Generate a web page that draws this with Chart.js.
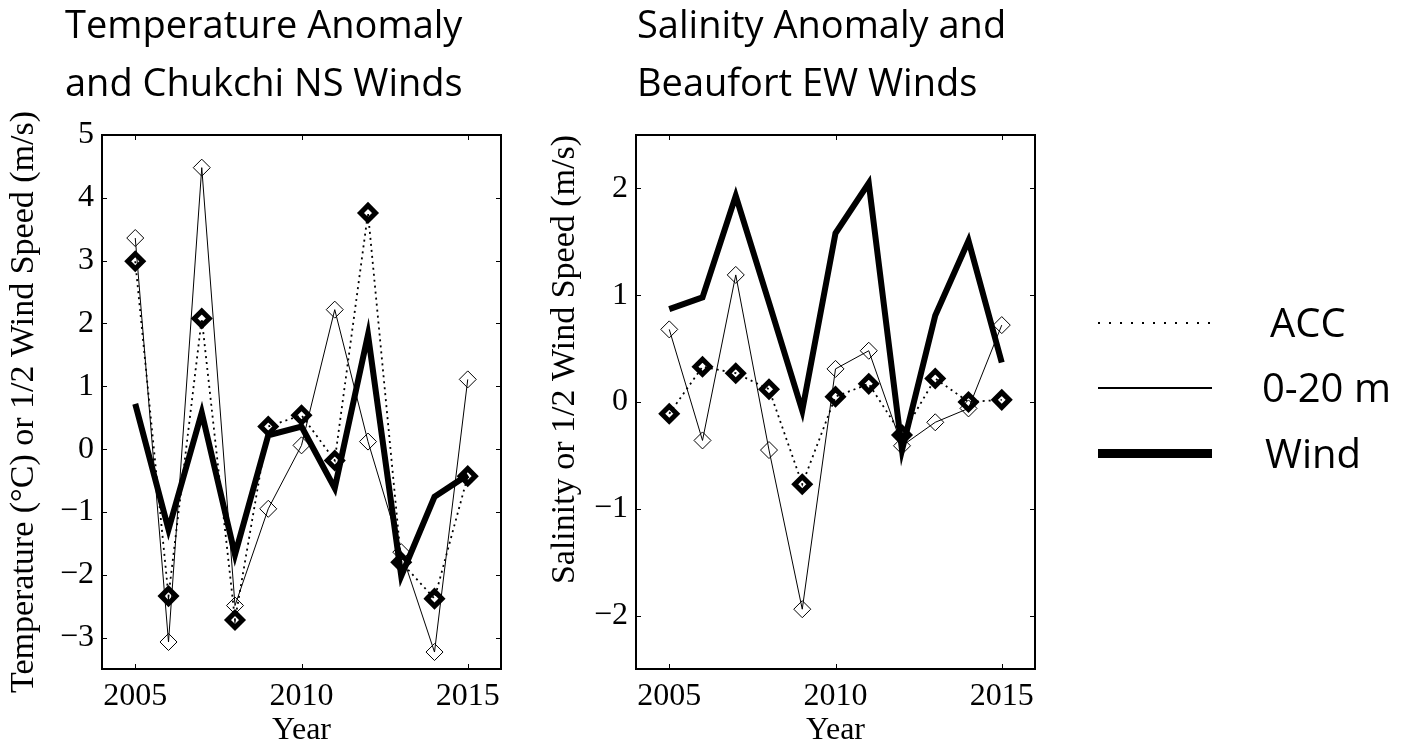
<!DOCTYPE html>
<html>
<head>
<meta charset="utf-8">
<script src="https://cdn.jsdelivr.net/npm/chart.js@4.4.1/dist/chart.umd.min.js"></script>
<style>
  html, body { margin: 0; padding: 0; background: #fff; overflow: hidden; }
  body { width: 1401px; height: 744px; position: relative; }
  canvas { position: absolute; }
  #left-chart { left: 0; top: 100px; }
  #right-chart { left: 540px; top: 100px; }
  #overlay { position: absolute; left: 0; top: 0; }
</style>
</head>
<body>
<canvas id="left-chart" width="530" height="650"></canvas>
<canvas id="right-chart" width="530" height="650"></canvas>

<svg id="overlay" width="1401" height="744">
  <g font-family="'Open Sans', sans-serif" font-size="38" fill="#000">
    <text x="65" y="38">Temperature Anomaly</text>
    <text x="65" y="96">and Chukchi NS Winds</text>
    <text x="637" y="38">Salinity Anomaly and</text>
    <text x="637" y="96">Beaufort EW Winds</text>
  </g>
  <!-- legend -->
  <line x1="1098" y1="323" x2="1212" y2="323" stroke="#000" stroke-width="2" stroke-dasharray="2 9"/>
  <line x1="1098" y1="388" x2="1212" y2="388" stroke="#000" stroke-width="2"/>
  <line x1="1098" y1="453.5" x2="1212" y2="453.5" stroke="#000" stroke-width="9"/>
  <g font-family="'Open Sans', sans-serif" font-size="40" fill="#000">
    <text x="1270" y="337">ACC</text>
    <text x="1262" y="402">0-20 m</text>
    <text x="1265" y="468">Wind</text>
  </g>
</svg>

<script>
// data
const years = [2005, 2006, 2007, 2008, 2009, 2010, 2011, 2012, 2013, 2014, 2015];
const yearTicks = [2005, 2010, 2015];

// left panel: temperature anomaly + Chukchi NS winds
const tempShallow = [3.36, -3.07, 4.48, -2.49, -0.95, 0.06, 2.22, 0.12, -1.64, -3.23, 1.11];
const tempAcc = [2.99, -2.34, 2.08, -2.72, 0.36, 0.54, -0.18, 3.76, -1.80, -2.38, -0.43];
const chukchiWind = [0.72, -1.28, 0.58, -1.68, 0.22, 0.36, -0.62, 1.82, -2.02, -0.76, -0.41];
const tempTicks = [-3, -2, -1, 0, 1, 2, 3, 4, 5];

// right panel: salinity anomaly + Beaufort EW winds
const salShallow = [0.68, -0.36, 1.19, -0.45, -1.94, 0.31, 0.48, -0.41, -0.19, -0.06, 0.72];
const salAcc = [-0.11, 0.33, 0.27, 0.12, -0.77, 0.05, 0.17, -0.31, 0.22, 0.00, 0.02];
const beaufortWind = [0.87, 0.98, 1.93, 0.93, -0.08, 1.58, 2.05, -0.45, 0.81, 1.51, 0.37];
const salTicks = [-2, -1, 0, 1, 2];

const serif = "'Liberation Serif', 'Times New Roman', serif";

// box around the plot with inward ticks on all four sides
const framePlugin = {
  id: "frame",
  afterDraw(chart) {
    const { ctx, chartArea: a, scales } = chart;
    const x = scales.x, y = scales.y;
    ctx.save();
    ctx.strokeStyle = "#000";
    ctx.lineWidth = 1;
    ctx.beginPath();
    x.ticks.forEach(t => {
      const px = Math.round(x.getPixelForValue(t.value)) + 0.5;
      ctx.moveTo(px, a.bottom); ctx.lineTo(px, a.bottom - 5);
      ctx.moveTo(px, a.top); ctx.lineTo(px, a.top + 5);
    });
    y.ticks.forEach(t => {
      const py = Math.round(y.getPixelForValue(t.value)) + 0.5;
      ctx.moveTo(a.left, py); ctx.lineTo(a.left + 5, py);
      ctx.moveTo(a.right, py); ctx.lineTo(a.right - 5, py);
    });
    ctx.stroke();
    ctx.lineWidth = 2;
    ctx.strokeRect(a.left, a.top, a.right - a.left, a.bottom - a.top);
    ctx.restore();
  }
};

function toPoints(values) {
  return values.map((v, i) => ({ x: years[i], y: v }));
}

function makeChart(id, opts) {
  const ctx = document.getElementById(id).getContext("2d");
  return new Chart(ctx, {
    type: "line",
    data: {
      datasets: [
        {
          label: "Wind",
          data: toPoints(opts.wind),
          borderColor: "#000",
          borderWidth: 6,
          pointRadius: 0,
          tension: 0
        },
        {
          label: "ACC",
          data: toPoints(opts.acc),
          borderColor: "#000",
          borderWidth: 1.8,
          borderDash: [2, 4],
          pointStyle: "rectRot",
          pointRadius: 7.5,
          pointBorderWidth: 5,
          pointBorderColor: "#000",
          pointBackgroundColor: "rgba(0,0,0,0)",
          tension: 0
        },
        {
          label: "0-20 m",
          data: toPoints(opts.shallow),
          borderColor: "#000",
          borderWidth: 1,
          pointStyle: "rectRot",
          pointRadius: 8.5,
          pointBorderWidth: 1,
          pointBorderColor: "#000",
          pointBackgroundColor: "rgba(0,0,0,0)",
          tension: 0
        }
      ]
    },
    options: {
      responsive: false,
      animation: false,
      devicePixelRatio: 1,
      layout: { padding: { top: 35, right: opts.padRight, left: 0, bottom: 0 } },
      plugins: {
        legend: { display: false },
        tooltip: { enabled: false }
      },
      scales: {
        x: {
          type: "linear",
          min: 2004,
          max: 2016,
          afterBuildTicks: s => { s.ticks = yearTicks.map(v => ({ value: v })); },
          afterFit: s => { s.height = 81; },
          grid: { display: false, drawTicks: false },
          border: { display: false },
          ticks: {
            color: "#000",
            padding: 8,
            maxRotation: 0,
            font: { family: serif, size: 32 },
            callback: v => String(v)
          },
          title: {
            display: true,
            text: "Year",
            color: "#000",
            padding: { top: 0, bottom: 0 },
            font: { family: serif, size: 32, lineHeight: 1.2 }
          }
        },
        y: {
          min: opts.yMin,
          max: opts.yMax,
          afterBuildTicks: s => { s.ticks = opts.yTicks.map(v => ({ value: v })); },
          afterFit: s => { s.width = opts.yWidth; },
          grid: { display: false, drawTicks: false },
          border: { display: false },
          ticks: {
            color: "#000",
            padding: 8,
            font: { family: serif, size: 32 },
            callback: v => String(v).replace("-", "\u2212")
          },
          title: {
            display: true,
            text: opts.yTitle,
            align: opts.titleAlign,
            color: "#000",
            padding: { top: opts.titlePad, bottom: 0 },
            font: { family: serif, size: 34, lineHeight: 1.2 }
          }
        }
      }
    },
    plugins: [framePlugin]
  });
}

makeChart("left-chart", {
  shallow: tempShallow,
  acc: tempAcc,
  wind: chukchiWind,
  yMin: -3.5,
  yMax: 5,
  yTicks: tempTicks,
  yWidth: 102,
  padRight: 29,
  yTitle: "Temperature (\u00B0C) or 1/2 Wind Speed (m/s)",
  titleAlign: "center",
  titlePad: 3.6
});

makeChart("right-chart", {
  shallow: salShallow,
  acc: salAcc,
  wind: beaufortWind,
  yMin: -2.5,
  yMax: 2.5,
  yTicks: salTicks,
  yWidth: 96,
  padRight: 35,
  yTitle: "Salinity or 1/2 Wind Speed (m/s)",
  titleAlign: "end",
  titlePad: 4.6
});
</script>
</body>
</html>
